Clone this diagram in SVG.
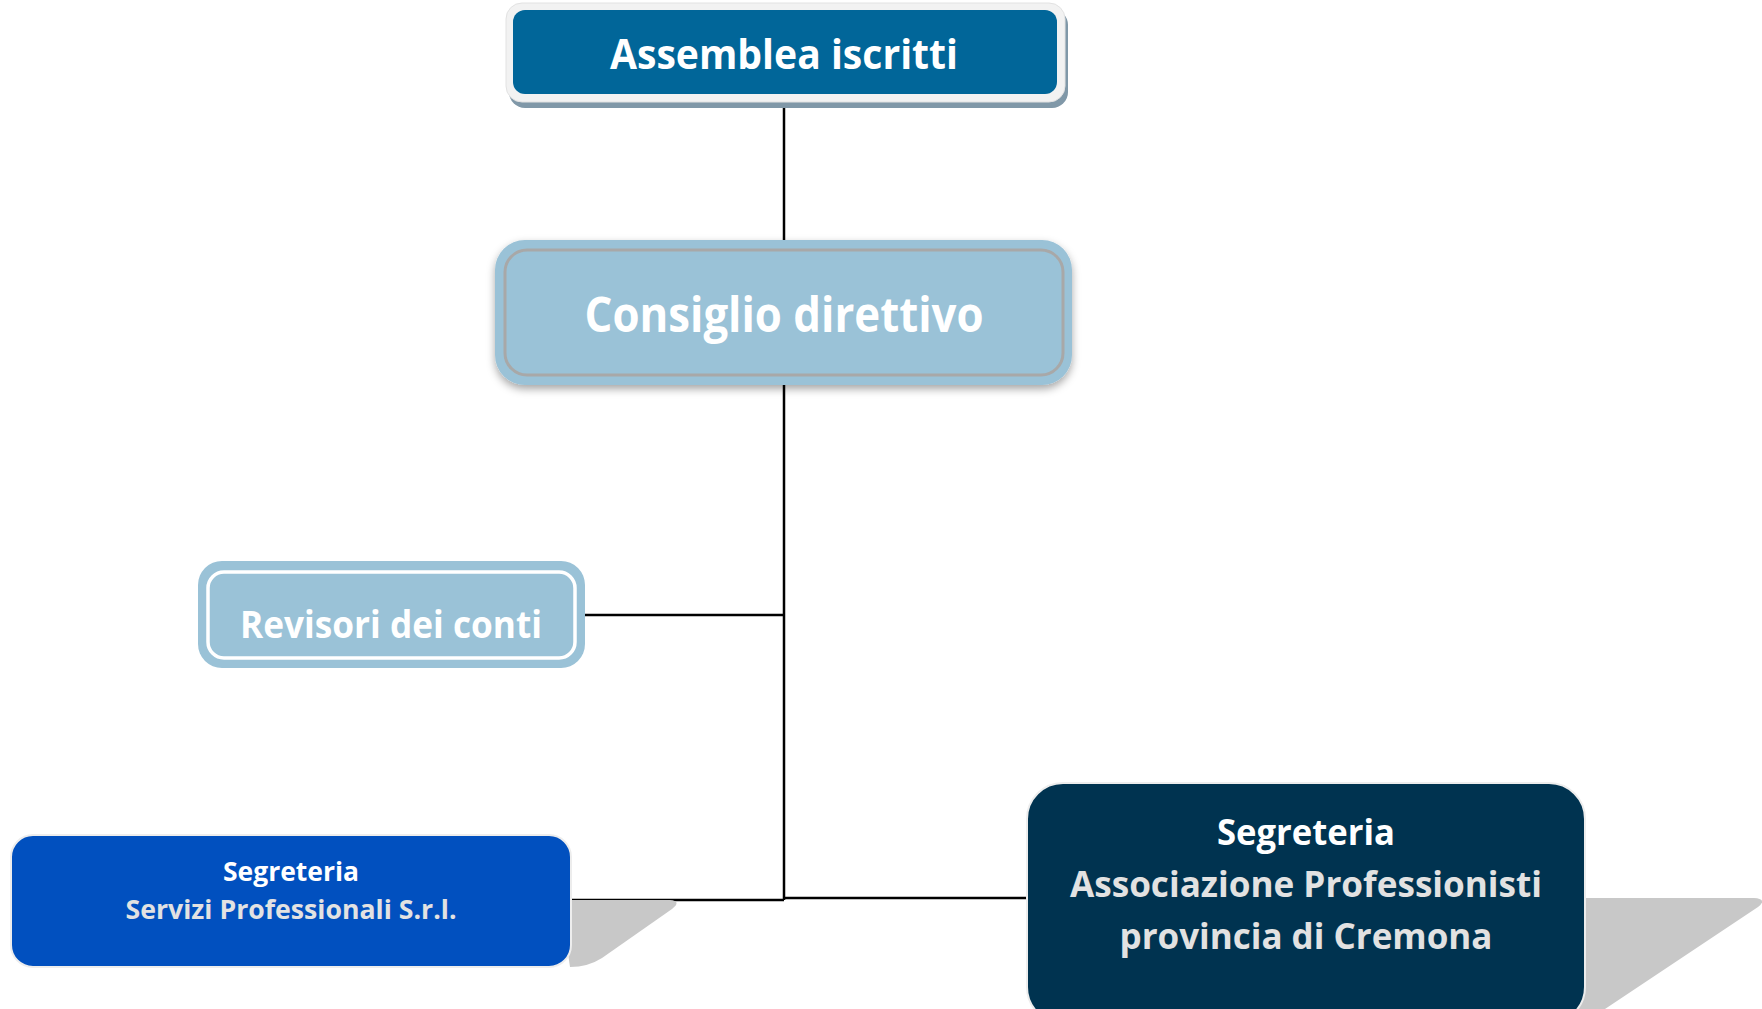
<svg xmlns="http://www.w3.org/2000/svg" width="1762" height="1009" viewBox="0 0 1762 1009">
  <style>
    .t { font-family: "Open Sans", "Liberation Sans", sans-serif; font-weight: 700; text-anchor: middle; }
    .w { fill: #FFFFFF; }
    .g { fill: #E2E2E2; }
    .conn { stroke: #000000; stroke-width: 2.5; fill: none; }
    .shade { fill: #C8C8C8; }
  </style>
  <defs>
    <filter id="soft" x="-10%" y="-20%" width="120%" height="150%">
      <feDropShadow dx="0" dy="4" stdDeviation="4" flood-color="#000000" flood-opacity="0.35"/>
    </filter>
  </defs>

  <g id="connectors">
    <line class="conn" x1="784" y1="100" x2="784" y2="245"/>
    <line class="conn" x1="784" y1="380" x2="784" y2="900"/>
    <line class="conn" x1="585" y1="615" x2="784" y2="615"/>
    <line class="conn" x1="571" y1="900" x2="784" y2="900"/>
    <line class="conn" x1="784" y1="898" x2="1027" y2="898"/>
  </g>

  <g id="assemblea">
    <rect x="509" y="9" width="559" height="99" rx="16" fill="#8098A8"/>
    <rect x="506" y="3" width="559" height="99" rx="16" fill="#F2F2F2" stroke="#E2E2E2" stroke-width="1"/>
    <rect x="513" y="10" width="544" height="84" rx="12" fill="#016699"/>
    <text class="t w" x="784" y="69" font-size="42" textLength="348" lengthAdjust="spacingAndGlyphs">Assemblea iscritti</text>
  </g>

  <g id="consiglio">
    <rect x="495" y="240" width="577" height="145" rx="30" fill="#9AC2D7" filter="url(#soft)"/>
    <rect x="505" y="250" width="558" height="125" rx="22" fill="#9AC2D7" stroke="#A8A8A8" stroke-width="3"/>
    <text class="t w" x="784" y="332" font-size="48" textLength="399" lengthAdjust="spacingAndGlyphs">Consiglio direttivo</text>
  </g>

  <g id="revisori">
    <rect x="198" y="561" width="387" height="107" rx="24" fill="#9AC2D7"/>
    <rect x="208" y="572" width="367" height="86" rx="16" fill="#9AC2D7" stroke="#FFFFFF" stroke-width="3.5"/>
    <text class="t w" x="391" y="638" font-size="37" textLength="302" lengthAdjust="spacingAndGlyphs">Revisori dei conti</text>
  </g>

  <g id="segreteria-sp">
    <path class="shade" d="M560,900 L670,900 Q682,901 672,909 L602,958 Q588,967 570,967 Z"/>
    <rect x="11" y="835" width="560" height="132" rx="22" fill="#0150BF" stroke="#EDEDED" stroke-width="2"/>
    <text class="t w" x="291" y="881" font-size="27" textLength="136" lengthAdjust="spacingAndGlyphs">Segreteria</text>
    <text class="t g" x="291" y="919" font-size="27" textLength="331" lengthAdjust="spacingAndGlyphs">Servizi Professionali S.r.l.</text>
  </g>

  <g id="segreteria-apc">
    <path class="shade" d="M1570,898 L1754,898 Q1768,899 1758,907 L1605,1009 L1570,1009 Z"/>
    <rect x="1027" y="783" width="558" height="240" rx="36" fill="#003350" stroke="#EDEDED" stroke-width="2"/>
    <text class="t w" x="1306" y="845" font-size="36" textLength="178" lengthAdjust="spacingAndGlyphs">Segreteria</text>
    <text class="t g" x="1306" y="897" font-size="36" textLength="472" lengthAdjust="spacingAndGlyphs">Associazione Professionisti</text>
    <text class="t g" x="1306" y="949" font-size="36" textLength="373" lengthAdjust="spacingAndGlyphs">provincia di Cremona</text>
  </g>
</svg>
